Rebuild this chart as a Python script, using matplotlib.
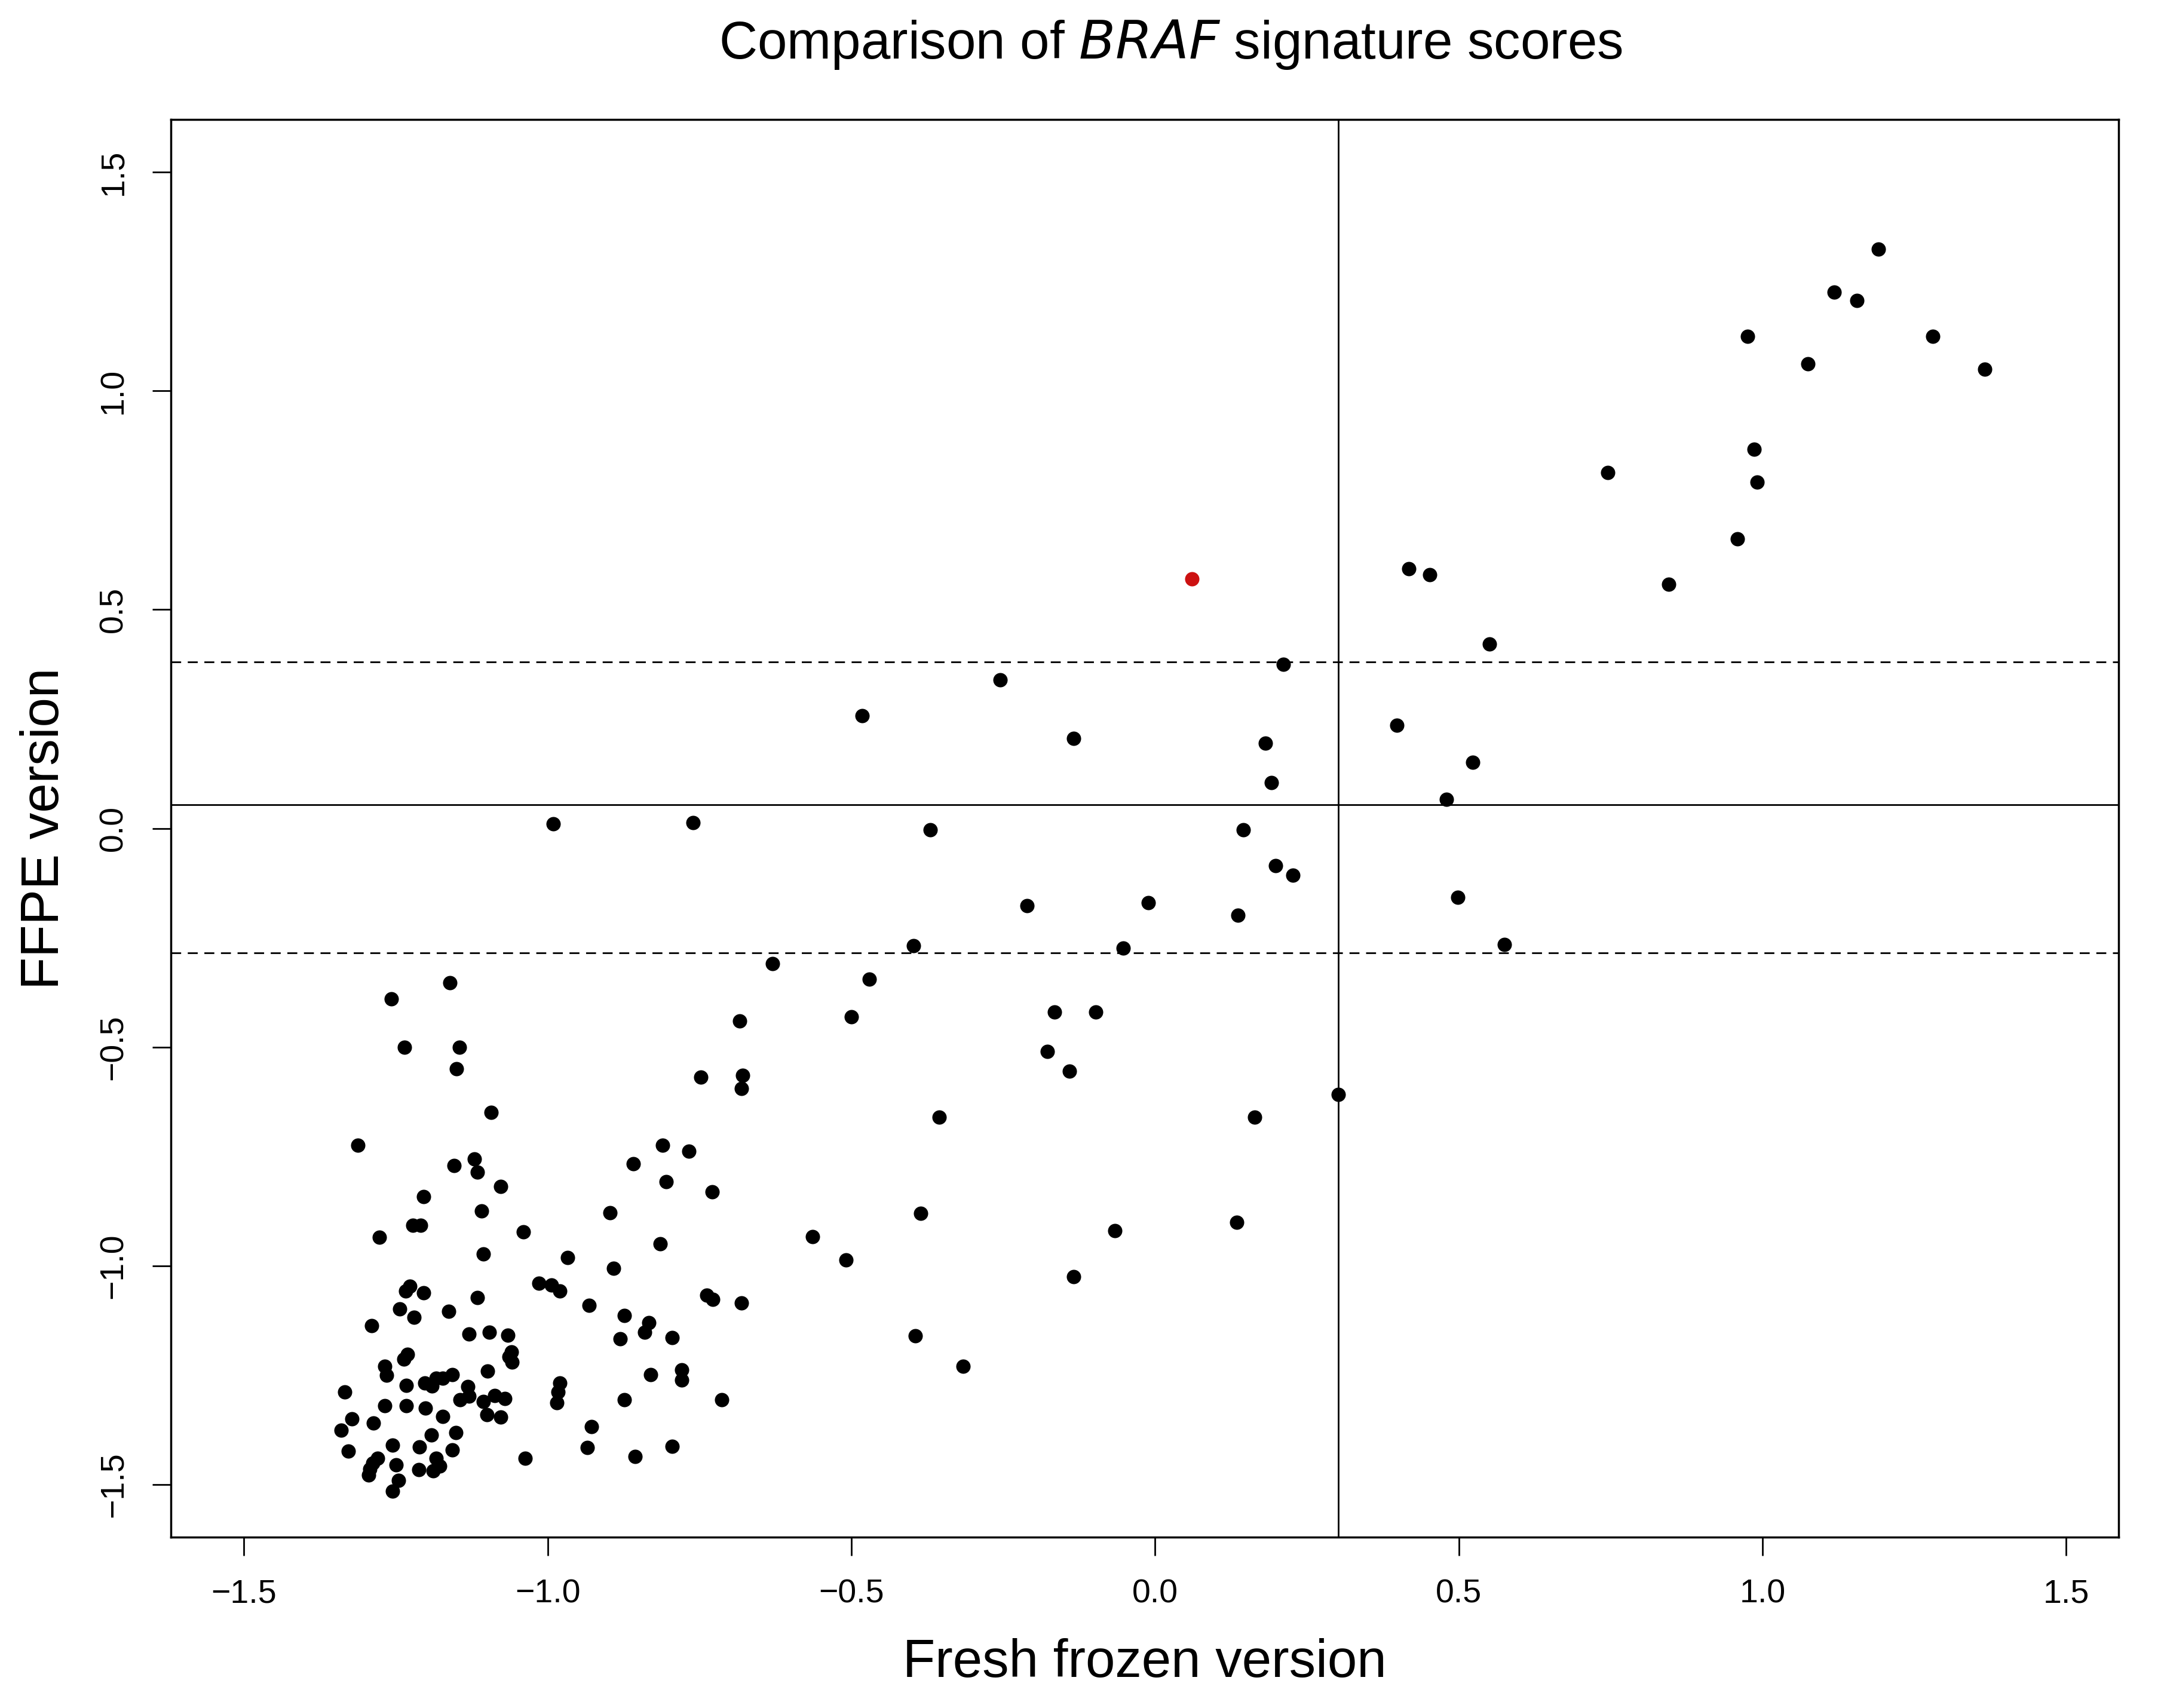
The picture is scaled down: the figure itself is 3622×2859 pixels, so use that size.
import matplotlib
matplotlib.use("Agg")
import matplotlib.pyplot as plt

plt.rcParams['font.family'] = ['Liberation Sans', 'DejaVu Sans']

# fresh frozen score (x) and FFPE score (y)
fresh = [
    -0.748, -0.679, -0.681, -1.093, -1.312, -1.154, -1.121, -1.116, -1.077, -0.811,
    -0.767, -0.859, -0.805, -0.729, -1.204, -1.109, -0.897, -1.222, -1.209, -1.277,
    -1.040, -1.106, -0.815, -0.967, -0.891, -1.227, -1.234, -1.204, -1.014, -0.994,
    -0.980, -1.116, -0.738, -0.728, -0.681, -0.932, -1.243, -1.220, -1.163, -0.874,
    -1.290, -0.833, -0.840, -1.129, -1.096, -1.065, -0.881, -0.795, -1.231, -1.237,
    -1.060, -1.063, -1.059, -1.268, -1.265, -1.099, -0.830, -0.779, -0.779, -1.334,
    -1.233, -1.202, -1.190, -1.183, -1.173, -1.157, -1.131, -1.129, -1.144, -0.980,
    -0.983, -0.985, -1.106, -1.087, -1.070, -1.100, -1.077, -1.268, -1.233, -1.201,
    -1.173, -0.874, -0.713, -1.322, -1.287, -1.340, -1.191, -1.151, -0.928, -1.255,
    -1.211, -1.328, -1.280, -1.288, -1.293, -1.295, -1.249, -1.183, -1.178, -1.212,
    -1.188, -1.157, -1.037, -0.935, -0.856, -0.795, -1.245, -1.255,
    -1.257, -1.236, -1.161, -1.145, -1.150, -0.991, -0.761, -0.482, -0.255, -0.134,
    0.211, 0.182, 0.191, -0.370, 0.145, 0.198, 0.227, 0.136, -0.011, -0.211,
    -0.052, -0.398, -0.630, -0.470, -0.500, -0.684, -0.166, -0.098, -0.177, -0.141,
    -0.355, 0.164, 0.302, -0.386, -0.564, -0.509, -0.066, 0.134, -0.134, -0.395,
    -0.316,
    0.398, 0.418, 0.452, 0.550, 0.523, 0.480, 0.498, 0.575, 0.745, 0.845,
    0.959, 0.975, 0.986, 0.991, 1.075, 1.118, 1.155, 1.191, 1.280, 1.366,
]
ffpe = [
    -0.569, -0.564, -0.594, -0.649, -0.724, -0.771, -0.755, -0.786, -0.818, -0.724,
    -0.738, -0.766, -0.808, -0.831, -0.842, -0.874, -0.879, -0.907, -0.907, -0.935,
    -0.922, -0.972, -0.949, -0.981, -1.005, -1.046, -1.057, -1.062, -1.039, -1.044,
    -1.057, -1.072, -1.067, -1.077, -1.085, -1.090, -1.098, -1.118, -1.104, -1.113,
    -1.136, -1.130, -1.152, -1.155, -1.151, -1.159, -1.166, -1.164, -1.202, -1.213,
    -1.197, -1.208, -1.220, -1.229, -1.250, -1.240, -1.249, -1.237, -1.261, -1.288,
    -1.273, -1.267, -1.274, -1.257, -1.257, -1.249, -1.276, -1.298, -1.306, -1.267,
    -1.288, -1.313, -1.310, -1.296, -1.303, -1.340, -1.345, -1.320, -1.320, -1.325,
    -1.344, -1.306, -1.306, -1.349, -1.359, -1.376, -1.386, -1.381, -1.367, -1.410,
    -1.414, -1.423, -1.440, -1.450, -1.464, -1.478, -1.455, -1.440, -1.457, -1.466,
    -1.468, -1.420, -1.440, -1.415, -1.436, -1.412, -1.490, -1.515,
    -0.390, -0.500, -0.353, -0.500, -0.550, 0.010, 0.013, 0.258, 0.340, 0.205,
    0.375, 0.195, 0.104, -0.003, -0.003, -0.085, -0.107, -0.199, -0.170, -0.176,
    -0.274, -0.268, -0.309, -0.344, -0.430, -0.440, -0.420, -0.420, -0.510, -0.555,
    -0.660, -0.660, -0.608, -0.880, -0.933, -0.986, -0.920, -0.900, -1.024, -1.160,
    -1.229,
    0.236, 0.593, 0.580, 0.422, 0.151, 0.066, -0.158, -0.265, 0.813, 0.558,
    0.662, 1.125, 0.867, 0.791, 1.062, 1.226, 1.207, 1.324, 1.125, 1.049,
]
highlight_x = [0.061]
highlight_y = [0.570]

cut_x = 0.302
cut_y = 0.054
band_y = [0.381, -0.284]

fig = plt.figure(figsize=(36.22, 28.59), dpi=100)
ax = fig.add_axes([0.079, 0.100, 0.900, 0.830])

ax.scatter(fresh, ffpe, s=300, c='black', linewidths=0, zorder=3)
ax.scatter(highlight_x, highlight_y, s=300, c='#cc1111', linewidths=0, zorder=3)

ax.axvline(cut_x, color='black', lw=2)
ax.axhline(cut_y, color='black', lw=2)
for yv in band_y:
    ax.axhline(yv, color='black', lw=2, ls=(0, (6, 4)))

ax.set_xlim(-1.62, 1.586)
ax.set_ylim(-1.62, 1.62)
ticks = [-1.5, -1.0, -0.5, 0.0, 0.5, 1.0, 1.5]
labels = ['\u22121.5', '\u22121.0', '\u22120.5', '0.0', '0.5', '1.0', '1.5']
ax.set_xticks(ticks)
ax.set_yticks(ticks)
ax.set_xticklabels(labels)
ax.set_yticklabels(labels, rotation=90, va='center')
ax.tick_params(direction='out', length=22, width=2, labelsize=40, pad=28, colors='black')
for sp in ax.spines.values():
    sp.set_linewidth(2.5)

ax.set_xlabel('Fresh frozen version', fontsize=64, labelpad=34)
ax.set_ylabel('FFPE version', fontsize=64, labelpad=34)
fig.text(0.541, 0.974, r'Comparison of $\mathit{BRAF}$ signature scores',
         ha='center', va='center', fontsize=64)

fig.savefig('out.png', dpi=100)
